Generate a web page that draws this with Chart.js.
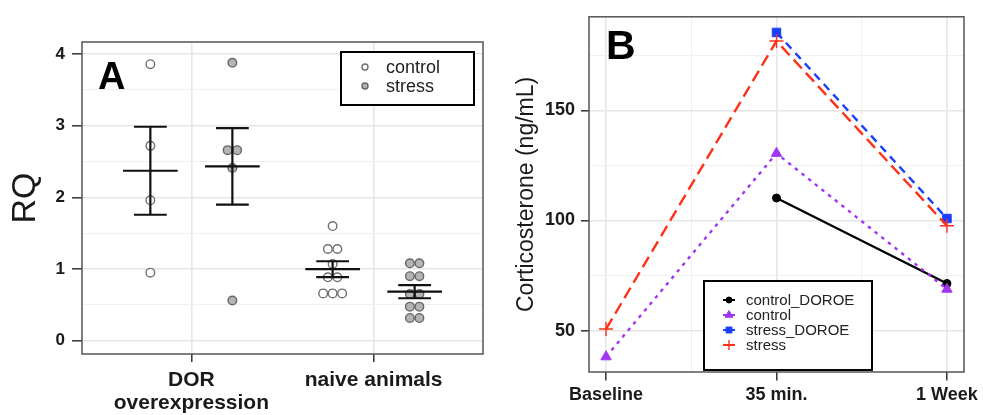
<!DOCTYPE html>
<html>
<head>
<meta charset="utf-8">
<script src="https://cdn.jsdelivr.net/npm/chart.js@4.4.1/dist/chart.umd.min.js"></script>
<style>
  body { margin: 0; background: #fff; }
  #wrap { position: relative; width: 983px; height: 415px; }
  canvas { position: absolute; top: 0; }
  #chartA { left: 0; }
  #chartB { left: 492px; }
</style>
</head>
<body>
<div id="wrap">
  <canvas id="chartA" width="492" height="415"></canvas>
  <canvas id="chartB" width="491" height="415"></canvas>
</div>
<script>
// A: relative quantity per animal, grouped by condition
const groups = [['DOR', 'overexpression'], 'naive animals'];
const seriesA = ['control', 'stress'];
const rqTicks = [0, 1, 2, 3, 4];
const controlDOR = [3.86, 2.72, 1.96, 0.95];
const stressDOR = [3.88, 2.66, 2.66, 2.41, 0.56];
const controlNaive = [1.60, 1.28, 1.28, 1.07, 0.885, 0.885, 0.66, 0.66, 0.66];
const stressNaive = [1.08, 1.08, 0.90, 0.90, 0.65, 0.65, 0.475, 0.475, 0.317, 0.317];

// B: corticosterone over time
const timepoints = ['Baseline', '35 min.', '1 Week'];
const seriesB = ['control_DOROE', 'control', 'stress_DOROE', 'stress'];
const cortTicks = [50, 100, 150];
const controlDOROE = [null, 110.2, 71.4];
const control = [38.1, 130.5, 68.8];
const stressDOROE = [null, 185.4, 100.9];
const stress = [50.7, 181.5, 97.6];

const fam = '"Liberation Sans", Arial, Helvetica, sans-serif';
Chart.defaults.font.family = fam;
Chart.defaults.color = '#1a1a1a';

const dodge = 0.225;
const binStep = 0.052;

// spread equal values side by side like a dot plot
function dots(values, center) {
  const count = {}, used = {};
  values.forEach(v => { count[v] = (count[v] || 0) + 1; });
  return values.map(v => {
    used[v] = (used[v] || 0) + 1;
    return { x: center + (used[v] - 1 - (count[v] - 1) / 2) * binStep, y: v };
  });
}

function meanSe(values) {
  const n = values.length;
  const m = values.reduce((s, v) => s + v, 0) / n;
  const sd = Math.sqrt(values.reduce((s, v) => s + (v - m) * (v - m), 0) / (n - 1));
  return { m: m, se: sd / Math.sqrt(n) };
}

// whisker, two caps and the mean bar, split by gaps
function errorBar(values, c) {
  const s = meanSe(values), cap = 0.09, bar = 0.15;
  const lo = s.m - s.se, hi = s.m + s.se;
  return [
    { x: c, y: lo }, { x: c, y: hi }, { x: c, y: null },
    { x: c - cap, y: hi }, { x: c + cap, y: hi }, { x: c, y: null },
    { x: c - cap, y: lo }, { x: c + cap, y: lo }, { x: c, y: null },
    { x: c - bar, y: s.m }, { x: c + bar, y: s.m }, { x: c, y: null }
  ];
}

// majors plus half-step minors inside the range
function withMinors(major, min, max) {
  const step = major[1] - major[0];
  const out = [];
  for (let v = major[0] - step / 2; v <= major[major.length - 1] + step / 2 + 1e-9; v += step / 2) {
    if (v >= min && v <= max) out.push({ value: Math.round(v * 1000) / 1000 });
  }
  return out;
}

const isMinor = (list, c) => c.tick && !list.includes(c.tick.value);

function gridFor(list, tickLen) {
  return {
    color: c => isMinor(list, c) ? '#f0f0f0' : '#e6e6e6',
    lineWidth: c => isMinor(list, c) ? 1 : 1.6,
    tickColor: c => isMinor(list, c) ? 'rgba(0,0,0,0)' : '#333',
    tickWidth: 1.5,
    tickLength: tickLen
  };
}

const panelExtras = {
  id: 'panelExtras',
  afterDatasetsDraw(chart, args, opts) {
    const ctx = chart.ctx, a = chart.chartArea;
    ctx.save();
    ctx.strokeStyle = '#555';
    ctx.lineWidth = 1.5;
    ctx.strokeRect(a.left, a.top, a.right - a.left, a.bottom - a.top);

    ctx.fillStyle = '#000';
    ctx.font = 'bold ' + opts.letter.size + 'px ' + fam;
    ctx.textAlign = 'left';
    ctx.textBaseline = 'alphabetic';
    ctx.fillText(opts.letter.text, opts.letter.x, opts.letter.y);

    const L = opts.legend;
    ctx.fillStyle = '#fff';
    ctx.fillRect(L.box[0], L.box[1], L.box[2], L.box[3]);
    ctx.strokeStyle = '#000';
    ctx.lineWidth = 2;
    ctx.strokeRect(L.box[0], L.box[1], L.box[2], L.box[3]);
    ctx.font = L.size + 'px ' + fam;
    ctx.textBaseline = 'middle';
    L.items.forEach((it, i) => {
      const ds = chart.data.datasets[it.dataset];
      const y = L.rows[i];
      if (L.segment) {
        ctx.strokeStyle = ds.borderColor;
        ctx.lineWidth = 2;
        ctx.beginPath();
        ctx.moveTo(L.markerX - 6, y);
        ctx.lineTo(L.markerX + 6, y);
        ctx.stroke();
      }
      ctx.fillStyle = ds.pointBackgroundColor;
      ctx.strokeStyle = ds.pointBorderColor;
      ctx.lineWidth = ds.pointBorderWidth;
      Chart.helpers.drawPoint(ctx, {
        pointStyle: ds.pointStyle || 'circle', radius: it.r,
        borderWidth: ds.pointBorderWidth, rotation: 0
      }, L.markerX, y);
      ctx.fillStyle = '#222';
      ctx.fillText(ds.label, L.textX, y + 1);
    });
    ctx.restore();
  }
};

new Chart(document.getElementById('chartA'), {
  type: 'scatter',
  data: {
    datasets: [
      {
        label: seriesA[0],
        data: dots(controlDOR, 1 - dodge).concat(dots(controlNaive, 2 - dodge)),
        pointRadius: 4.3, pointBackgroundColor: '#ffffff', pointBorderColor: '#707070',
        pointBorderWidth: 1.4, order: 2
      },
      {
        label: seriesA[1],
        data: dots(stressDOR, 1 + dodge).concat(dots(stressNaive, 2 + dodge)),
        pointRadius: 4.3, pointBackgroundColor: '#b4b4b4', pointBorderColor: '#666666',
        pointBorderWidth: 1.4, order: 1
      },
      {
        label: 'mean ± SE',
        data: [].concat(
          errorBar(controlDOR, 1 - dodge), errorBar(stressDOR, 1 + dodge),
          errorBar(controlNaive, 2 - dodge), errorBar(stressNaive, 2 + dodge)),
        showLine: true, spanGaps: false, borderColor: '#111', borderWidth: 2.2,
        pointRadius: 0, order: 0
      }
    ]
  },
  options: {
    responsive: false,
    animation: false,
    events: [],
    layout: { padding: { top: 42, right: 9, left: 0, bottom: 0 } },
    plugins: {
      legend: { display: false },
      tooltip: { enabled: false },
      panelExtras: {
        letter: { text: 'A', x: 98, y: 89, size: 38 },
        legend: {
          box: [341, 52, 133, 53], markerX: 365, textX: 386, rows: [67, 86], size: 18,
          items: [{ dataset: 0, r: 3 }, { dataset: 1, r: 3 }]
        }
      }
    },
    scales: {
      x: {
        type: 'linear', min: 0.4, max: 2.6,
        afterBuildTicks: s => { s.ticks = [{ value: 1 }, { value: 2 }]; },
        afterFit: s => { s.height = 61; },
        ticks: {
          autoSkip: false, maxRotation: 0, padding: 7,
          font: { size: 21, weight: 'bold', lineHeight: 1.1 },
          callback: v => groups[v - 1]
        },
        grid: gridFor([1, 2], 8),
        border: { display: false }
      },
      y: {
        min: -0.186, max: 4.17,
        afterBuildTicks: s => { s.ticks = withMinors(rqTicks, s.min, s.max); },
        afterFit: s => { s.width = 82; },
        ticks: {
          autoSkip: false, padding: 7,
          font: { size: 17, weight: 'bold' },
          callback: v => rqTicks.includes(v) ? String(v) : ''
        },
        grid: gridFor(rqTicks, 10),
        border: { display: false },
        title: { display: true, text: 'RQ', font: { size: 34 }, color: '#1a1a1a', padding: { top: 5, bottom: 0 } }
      }
    }
  },
  plugins: [panelExtras]
});

const xy = arr => arr.map((v, i) => ({ x: i, y: v }));

new Chart(document.getElementById('chartB'), {
  type: 'line',
  data: {
    datasets: [
      {
        label: seriesB[0], data: xy(controlDOROE),
        borderColor: '#000', borderWidth: 2.2, pointStyle: 'circle', pointRadius: 4,
        pointBackgroundColor: '#000', pointBorderColor: '#000', pointBorderWidth: 1, order: 3
      },
      {
        label: seriesB[1], data: xy(control),
        borderColor: '#a035f2', borderWidth: 2.4, borderDash: [3.5, 5], pointStyle: 'triangle', pointRadius: 6,
        pointBackgroundColor: '#a035f2', pointBorderColor: '#a035f2', pointBorderWidth: 1, order: 2
      },
      {
        label: seriesB[2], data: xy(stressDOROE),
        borderColor: '#1a40ff', borderWidth: 2.4, borderDash: [8, 6], pointStyle: 'rect', pointRadius: 6,
        pointBackgroundColor: '#1a40ff', pointBorderColor: '#1a40ff', pointBorderWidth: 1, order: 1
      },
      {
        label: seriesB[3], data: xy(stress),
        borderColor: '#ff3018', borderWidth: 2.4, borderDash: [12, 6], pointStyle: 'cross', pointRadius: 7,
        pointBackgroundColor: '#ff3018', pointBorderColor: '#ff3018', pointBorderWidth: 1.4, order: 0
      }
    ]
  },
  options: {
    responsive: false,
    animation: false,
    events: [],
    spanGaps: false,
    layout: { padding: { top: 9, right: 19, left: 0, bottom: 0 } },
    plugins: {
      legend: { display: false },
      tooltip: { enabled: false },
      panelExtras: {
        letter: { text: 'B', x: 114, y: 59, size: 41 },
        legend: {
          box: [212, 281, 168, 89], markerX: 237, textX: 254, rows: [300, 315, 330, 345], size: 15,
          segment: true,
          items: [{ dataset: 0, r: 3 }, { dataset: 1, r: 4.5 }, { dataset: 2, r: 4.2 }, { dataset: 3, r: 5 }]
        }
      }
    },
    scales: {
      x: {
        type: 'linear', min: -0.1, max: 2.1,
        afterBuildTicks: s => { s.ticks = [0, 0.5, 1, 1.5, 2].map(v => ({ value: v })); },
        afterFit: s => { s.height = 43; },
        ticks: {
          autoSkip: false, maxRotation: 0, padding: 4,
          font: { size: 18, weight: 'bold' },
          callback: v => Number.isInteger(v) ? timepoints[v] : ''
        },
        grid: gridFor([0, 1, 2], 8.5),
        border: { display: false }
      },
      y: {
        min: 31.2, max: 192.5,
        afterBuildTicks: s => { s.ticks = withMinors(cortTicks, s.min, s.max); },
        afterFit: s => { s.width = 97; },
        ticks: {
          autoSkip: false, padding: 6,
          font: { size: 18, weight: 'bold' },
          callback: v => cortTicks.includes(v) ? String(v) : ''
        },
        grid: gridFor(cortTicks, 8),
        border: { display: false },
        title: {
          display: true, text: 'Corticosterone (ng/mL)', font: { size: 23 }, color: '#1a1a1a',
          padding: { top: 21, bottom: 0 }
        }
      }
    }
  },
  plugins: [panelExtras]
});
</script>
</body>
</html>
